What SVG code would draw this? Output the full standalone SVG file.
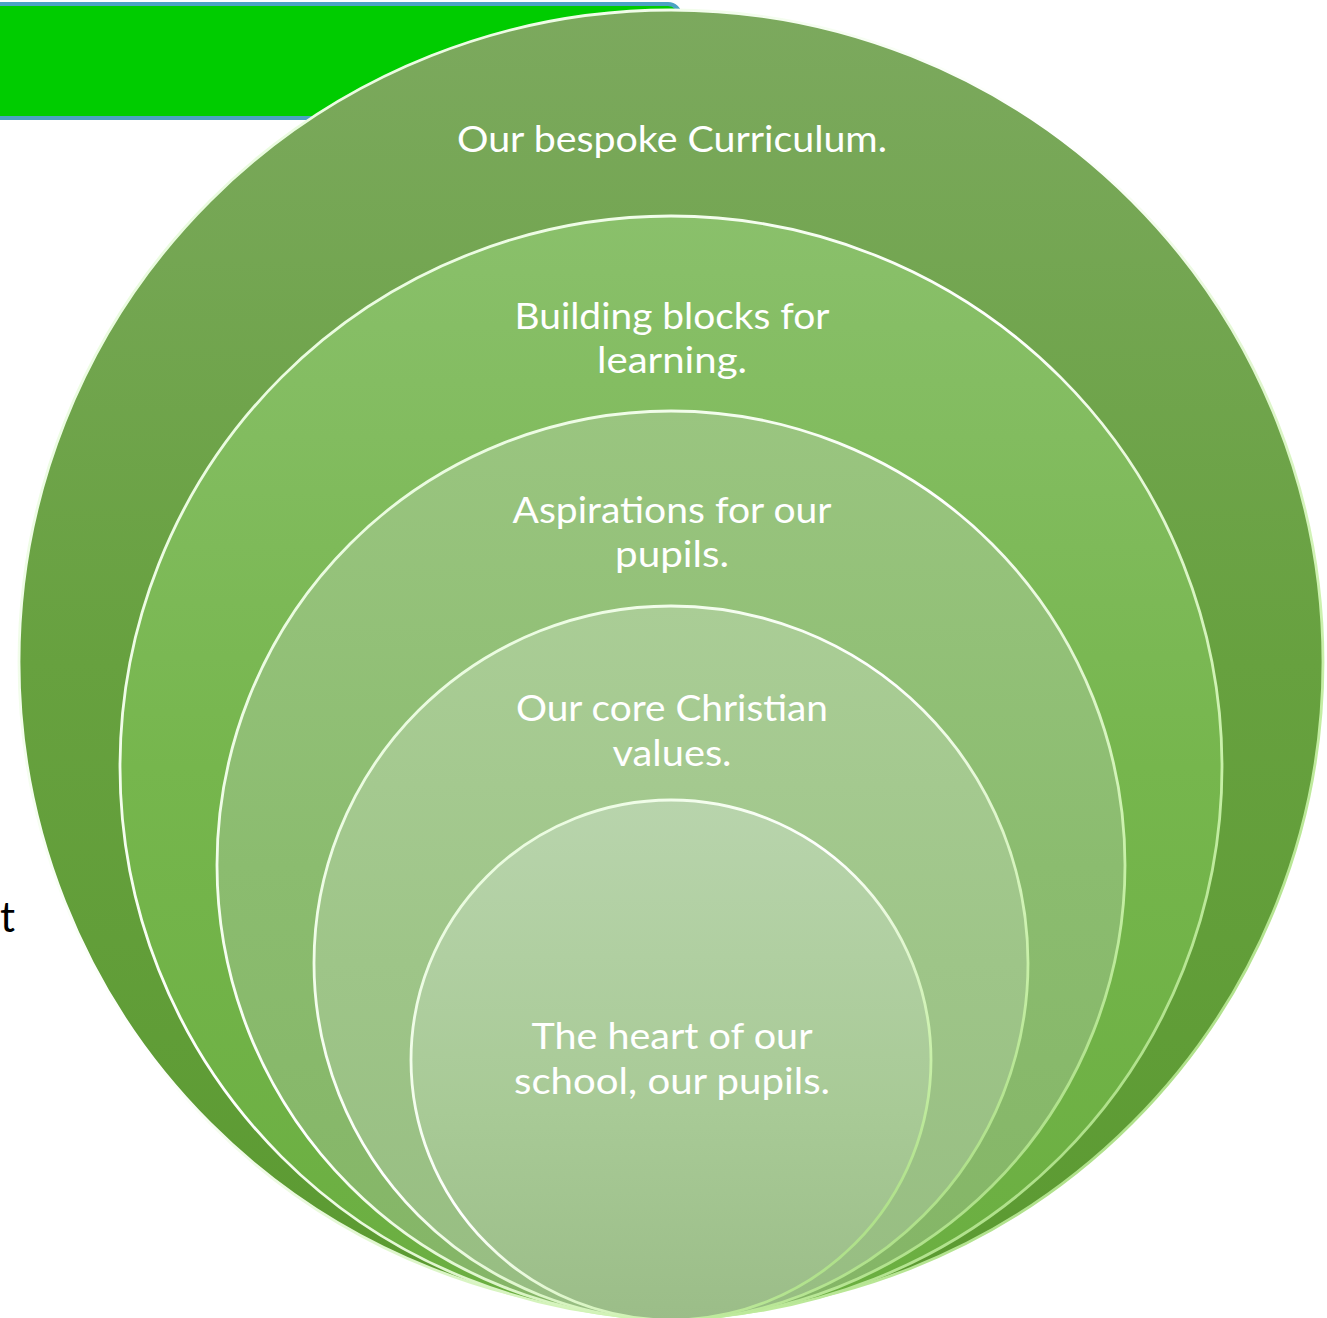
<svg xmlns="http://www.w3.org/2000/svg" width="1327" height="1318" viewBox="0 0 1327 1318">
<defs>
<linearGradient id="g1" x1="0" y1="0" x2="0" y2="1"><stop offset="0" stop-color="#7CA95E"/><stop offset="0.5" stop-color="#67A13F"/><stop offset="1" stop-color="#5B9A31"/></linearGradient>
<linearGradient id="g2" x1="0" y1="0" x2="0" y2="1"><stop offset="0" stop-color="#8AC06B"/><stop offset="0.5" stop-color="#76B64D"/><stop offset="1" stop-color="#6AAE40"/></linearGradient>
<linearGradient id="g3" x1="0" y1="0" x2="0" y2="1"><stop offset="0" stop-color="#9AC580"/><stop offset="0.5" stop-color="#8BBC6F"/><stop offset="1" stop-color="#84B566"/></linearGradient>
<linearGradient id="g4" x1="0" y1="0" x2="0" y2="1"><stop offset="0" stop-color="#AACD96"/><stop offset="0.5" stop-color="#9EC588"/><stop offset="1" stop-color="#97BD82"/></linearGradient>
<linearGradient id="g5" x1="0" y1="0" x2="0" y2="1"><stop offset="0" stop-color="#B8D4AC"/><stop offset="0.6" stop-color="#A8CA96"/><stop offset="1" stop-color="#9BBD88"/></linearGradient>
<linearGradient id="rim" x1="0" y1="0" x2="1" y2="1"><stop offset="0" stop-color="#E0FAD0"/><stop offset="0.45" stop-color="#FFFFFF"/><stop offset="0.75" stop-color="#C8F0A8"/><stop offset="1" stop-color="#8CCB60"/></linearGradient>
<style>
.ring{stroke:url(#rim);stroke-width:2.8}
.lbl{font-family:Lato,"Open Sans","Liberation Sans",sans-serif;font-size:36px;fill:#FFFFFF;text-anchor:middle}
</style>
</defs>
<g id="header-bar">
<rect x="-12" y="4" width="692" height="114" rx="12" fill="#00CC00" stroke="#4BA3C3" stroke-width="4"/>
</g>
<g id="side-text">
<text x="0" y="932" style="font-family:Lato,'Open Sans','Liberation Sans',sans-serif;font-size:42px;fill:#000000">t</text>
</g>
<g id="connectors"></g>
<g id="n1">
<circle class="ring" cx="671" cy="662" r="652" fill="url(#g1)"/>
<text class="lbl" x="672" y="152" textLength="430" lengthAdjust="spacingAndGlyphs">Our bespoke Curriculum.</text>
</g>
<g id="n2">
<circle class="ring" cx="671" cy="767" r="551" fill="url(#g2)"/>
<text class="lbl" x="672" y="329" textLength="315" lengthAdjust="spacingAndGlyphs">Building blocks for</text>
<text class="lbl" x="672" y="373" textLength="150" lengthAdjust="spacingAndGlyphs">learning.</text>
</g>
<g id="n3">
<circle class="ring" cx="671" cy="865" r="454" fill="url(#g3)"/>
<text class="lbl" x="672" y="523" textLength="319" lengthAdjust="spacingAndGlyphs">Aspirations for our</text>
<text class="lbl" x="672" y="567" textLength="114" lengthAdjust="spacingAndGlyphs">pupils.</text>
</g>
<g id="n4">
<circle class="ring" cx="671" cy="963" r="357" fill="url(#g4)"/>
<text class="lbl" x="672" y="721" textLength="312" lengthAdjust="spacingAndGlyphs">Our core Christian</text>
<text class="lbl" x="672" y="766" textLength="119" lengthAdjust="spacingAndGlyphs">values.</text>
</g>
<g id="n5">
<circle class="ring" cx="671" cy="1060" r="260" fill="url(#g5)"/>
<text class="lbl" x="672" y="1049" textLength="281" lengthAdjust="spacingAndGlyphs">The heart of our</text>
<text class="lbl" x="672" y="1094" textLength="316" lengthAdjust="spacingAndGlyphs">school, our pupils.</text>
</g>
</svg>
